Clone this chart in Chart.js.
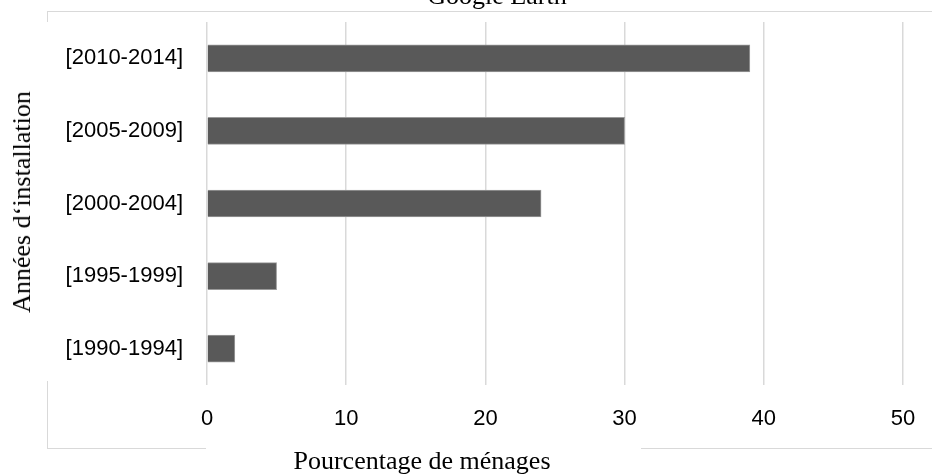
<!DOCTYPE html>
<html>
<head>
<meta charset="utf-8">
<script src="https://cdn.jsdelivr.net/npm/chart.js@4/dist/chart.umd.min.js"></script>
<style>
  html, body { margin: 0; padding: 0; background: #fff; }
  #wrap { position: relative; width: 932px; height: 474px; overflow: hidden; background: #fff; }
  #frame { position: absolute; left: 47px; top: 11px; width: 1000px; height: 436px; border: 1.5px solid #d9d9d9; }
  .mask { position: absolute; background: #fff; }
  #chart { position: absolute; left: 0; top: 0; }
  .serif { position: absolute; font-family: "Liberation Serif", "Times New Roman", serif; font-size: 26px; line-height: 26px; color: #000; white-space: nowrap; }
  #title { left: 497px; top: -17px; transform: translateX(-50%); }
  #xtitle { left: 422px; top: 448px; transform: translateX(-50%); }
  #ytitle { left: 22px; top: 202px; transform: translate(-50%, -50%) rotate(-90deg); }
</style>
</head>
<body>
<div id="wrap">
  <div id="frame"></div>
  <div class="mask" style="left:40px; top:22px; width:30px; height:359px;"></div>
  <div class="mask" style="left:206px; top:440px; width:435px; height:16px;"></div>
  <canvas id="chart" width="932" height="474"></canvas>
  <div id="title" class="serif">Google Earth</div>
  <div id="xtitle" class="serif">Pourcentage de ménages</div>
  <div id="ytitle" class="serif">Années d‘installation</div>
</div>
<script>
const periods = ['[2010-2014]', '[2005-2009]', '[2000-2004]', '[1995-1999]', '[1990-1994]'];
const menages = [39, 30, 24, 5, 2];
const xTicks = [0, 10, 20, 30, 40, 50];

// drop the label overhang padding so layout.padding decides the plot box
function noOverhang(axis) {
    axis.paddingTop = 0;
    axis.paddingBottom = 0;
    axis.paddingLeft = 0;
    axis.paddingRight = 0;
}

const tickFont = { family: 'Liberation Sans, Arial, sans-serif', size: 22 };

const ctx = document.getElementById('chart').getContext('2d');
new Chart(ctx, {
    type: 'bar',
    data: {
        labels: periods,
        datasets: [{
            data: menages,
            backgroundColor: '#595959',
            borderColor: '#9a9a9a',
            borderWidth: 1,
            barThickness: 27
        }]
    },
    options: {
        indexAxis: 'y',
        responsive: false,
        animation: false,
        layout: { padding: { top: 22, right: 29, left: 0, bottom: 0 } },
        plugins: {
            legend: { display: false },
            tooltip: { enabled: false }
        },
        scales: {
            x: {
                min: xTicks[0],
                max: xTicks[xTicks.length - 1],
                afterBuildTicks: (axis) => { axis.ticks = xTicks.map(v => ({ value: v })); },
                afterFit: (axis) => { axis.height = 89; noOverhang(axis); },
                grid: { color: '#d9d9d9', lineWidth: 1.5, drawTicks: false },
                border: { display: false },
                ticks: { padding: 21, color: '#000', font: tickFont }
            },
            y: {
                afterFit: (axis) => { axis.width = 207; noOverhang(axis); },
                grid: { display: false, drawTicks: false },
                border: { display: false },
                ticks: { padding: 24, color: '#000', font: tickFont }
            }
        }
    }
});
</script>
</body>
</html>
